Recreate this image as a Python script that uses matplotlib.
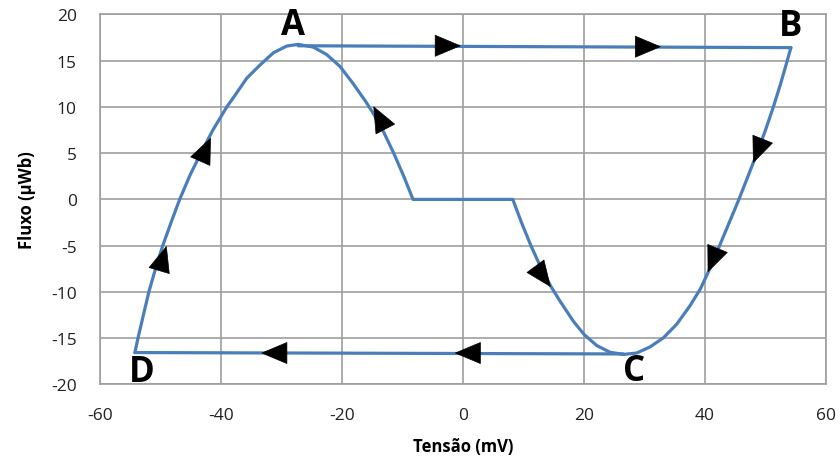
import numpy as np
import matplotlib
matplotlib.use("Agg")
import matplotlib.pyplot as plt
from matplotlib.patches import Polygon

# ---- data ----
# outer loop: D -> A (left rising curve)
left_x = [-54.3, -53.8, -52.9, -52.0, -50.9, -49.7, -48.3, -46.9, -45.2, -43.4,
          -41.4, -39.1, -37.9, -35.8, -33.55, -31.4, -29.2, -27.3]
left_y = [-16.55, -15.0, -12.5, -10.0, -7.5, -5.0, -2.45, 0.0, 2.6, 5.0,
          7.5, 10.0, 11.1, 13.1, 14.56, 15.84, 16.57, 16.75]
# A -> B (top line)
top_x = [-27.3, 54.2]
top_y = [16.6, 16.4]
# B -> C (right curve)
right_x = [54.2, 53.6, 52.5, 51.3, 50.0, 48.6, 47.1, 45.6, 44.0, 42.4, 40.5,
           39.2, 37.5, 35.3, 33.1, 30.9, 28.7, 26.5]
right_y = [16.4, 15.0, 12.5, 10.0, 7.5, 5.0, 2.5, 0.0, -2.5, -5.0, -7.9,
           -9.7, -11.5, -13.5, -14.96, -15.94, -16.6, -16.75]
# C -> D (bottom line)
bot_x = [26.5, -54.3]
bot_y = [-16.7, -16.55]
# inner path: A -> flat -> C
inner_x = [-27.3, -24.8, -22.6, -20.4, -18.25, -16.1, -14.7, -13.1, -11.5, -9.9,
           -8.3, 8.2, 9.7, 11.2, 12.8, 14.5, 16.0, 18.2, 20.0, 22.1, 24.3, 26.5]
inner_y = [16.75, 16.46, 15.66, 14.38, 12.55, 10.55, 9.1, 7.2, 5.0, 2.6,
           0.0, 0.0, -2.6, -5.0, -7.3, -9.4, -10.98, -13.15, -14.6, -15.8, -16.52, -16.75]

# arrow heads: tip point and base-centre point
arrow_tip_x = [-0.5, 32.6, -1.3, -33.3, -41.8, -49.1, -14.8, 14.4, 48.0, 40.5]
arrow_tip_y = [16.6, 16.5, -16.6, -16.6, 6.6, -5.1, 10.0, -9.4, 4.0, -7.8]
arrow_base_x = [-4.5, 28.6, 2.7, -29.3, -43.3, -50.2, -13.2, 12.6, 49.4, 42.0]
arrow_base_y = [16.6, 16.5, -16.6, -16.6, 4.4, -7.5, 8.0, -7.8, 6.3, -5.4]

labels = ["A", "B", "C", "D"]
label_x = [-28.1, 54.2, 28.3, -53.1]
label_y = [18.85, 18.7, -18.5, -18.7]

xticks = [-60, -40, -20, 0, 20, 40, 60]
yticks = [-20, -15, -10, -5, 0, 5, 10, 15, 20]

xlabel = "Tensão (mV)"
ylabel = "Fluxo (µWb)"

# ---- drawing ----
plt.rcParams['font.family'] = ['Open Sans', 'DejaVu Sans']
plt.rcParams['axes.unicode_minus'] = False
fig = plt.figure(figsize=(8.4, 4.64), dpi=100)
ax = fig.add_axes([0.1196, 0.1692, 0.8637, 0.7978])

blue = '#4a7ebb'
grey = '#9e9e9e'
lw = 2.3
for xs, ys in [(left_x, left_y), (top_x, top_y), (right_x, right_y),
               (bot_x, bot_y), (inner_x, inner_y)]:
    ax.plot(xs, ys, color=blue, lw=lw, solid_joinstyle='round',
            solid_capstyle='round', zorder=3)

ax.set_xlim(-60, 60)
ax.set_ylim(-20, 20)
ax.set_xticks(xticks)
ax.set_yticks(yticks)
ax.grid(True, color=grey, lw=1.2)
ax.set_axisbelow(True)
for s in ax.spines.values():
    s.set_color(grey)
    s.set_linewidth(1.2)
ax.tick_params(length=0, labelsize=12.5, colors='#222222')
ax.tick_params(axis='x', pad=16)
ax.tick_params(axis='y', pad=17)

ax.set_xlabel(xlabel, fontsize=12, fontweight='bold', labelpad=10)
ax.set_ylabel(ylabel, fontsize=12, fontweight='bold', labelpad=11)

# arrow heads as isosceles triangles (geometry computed in display space)
fig.canvas.draw()
tr = ax.transData
inv = tr.inverted()
head_len = 25.0
head_w = 21.0
for tx, ty, bx, by in zip(arrow_tip_x, arrow_tip_y, arrow_base_x, arrow_base_y):
    tp = tr.transform((tx, ty))
    bp = tr.transform((bx, by))
    d = tp - bp
    d = d / np.hypot(*d)
    n = np.array([-d[1], d[0]])
    base = tp - d * head_len
    verts = np.array([tp, base + n * head_w / 2, base - n * head_w / 2])
    ax.add_patch(Polygon(inv.transform(verts), closed=True, facecolor='black',
                         edgecolor='black', lw=0.5, zorder=4,
                         joinstyle='round'))

for t, x, y in zip(labels, label_x, label_y):
    ax.text(x, y, t, fontsize=25, fontweight='bold', ha='center', va='center',
            color='black', zorder=5, clip_on=False)

fig.savefig('out.png', dpi=100)
